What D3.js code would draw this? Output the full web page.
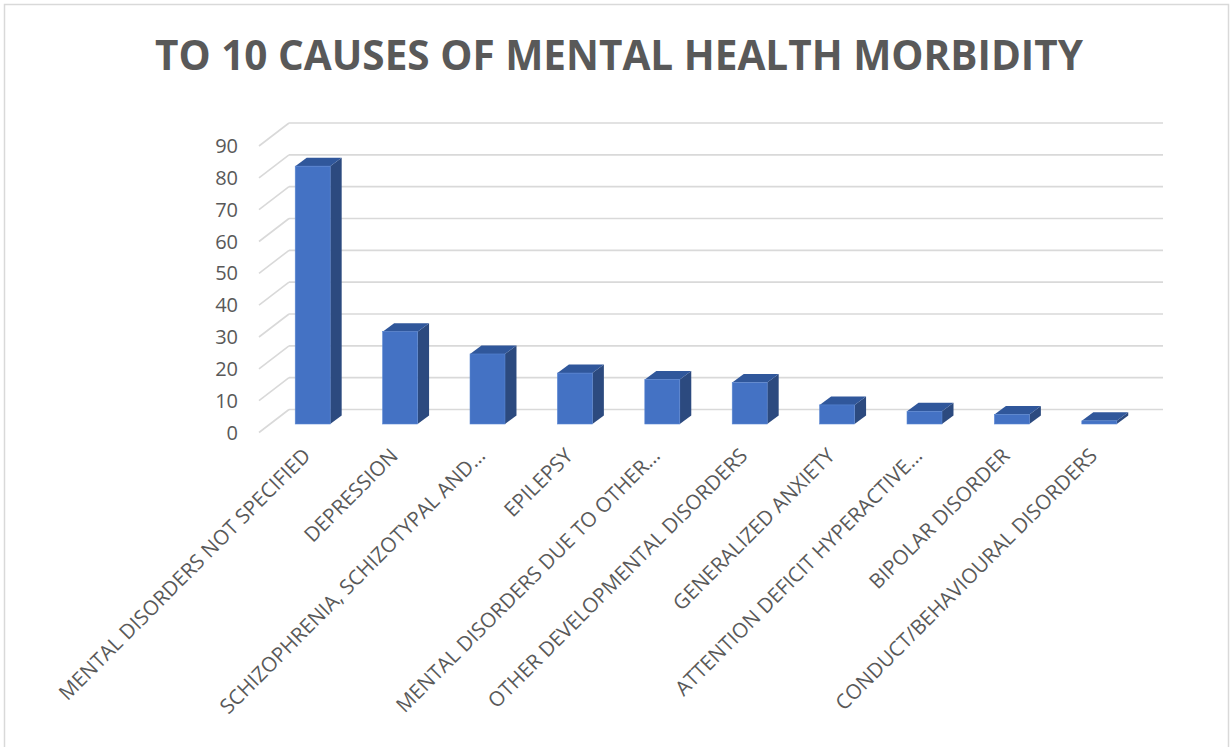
<!DOCTYPE html>
<html>
<head>
<meta charset="utf-8">
<script src="https://cdn.jsdelivr.net/npm/d3@7"></script>
<style>
  html, body { margin: 0; padding: 0; background: #fff; }
  svg { display: block; }
</style>
</head>
<body>
<svg id="chart" width="1231" height="747"></svg>
<script>
const title = "TO 10 CAUSES OF MENTAL HEALTH MORBIDITY";
const categories = [
  "MENTAL DISORDERS NOT SPECIFIED",
  "DEPRESSION",
  "SCHIZOPHRENIA, SCHIZOTYPAL AND…",
  "EPILEPSY",
  "MENTAL DISORDERS DUE TO OTHER…",
  "OTHER DEVELOPMENTAL DISORDERS",
  "GENERALIZED ANXIETY",
  "ATTENTION DEFICIT HYPERACTIVE…",
  "BIPOLAR DISORDER",
  "CONDUCT/BEHAVIOURAL DISORDERS"
];
const values = [81, 29, 22, 16, 14, 13, 6, 4, 3, 1];
const yTicks = [0, 10, 20, 30, 40, 50, 60, 70, 80, 90];

const svg = d3.select("#chart");
const textColor = "#595959";
const gridColor = "#d9d9d9";

// chart border
svg.append("rect")
  .attr("x", 4.5).attr("y", 4.5)
  .attr("width", 1224).attr("height", 760)
  .attr("fill", "#fff").attr("stroke", gridColor).attr("stroke-width", 1.5);

// title
svg.append("text")
  .attr("x", 155).attr("y", 70)
  .attr("textLength", 928).attr("lengthAdjust", "spacingAndGlyphs")
  .attr("font-family", "'Open Sans', sans-serif")
  .attr("font-weight", "bold")
  .attr("font-size", 42)
  .attr("fill", textColor)
  .text(title);

// back-wall scales
const x = d3.scaleBand().domain(categories).range([289, 1163]);
const y = d3.scaleLinear().domain([0, 90]).range([409.5, 123]);

// oblique depth: floor front edge relative to back wall
const depthX = -30, depthY = 23;
// bar front plane offset and bar side depth
const barFrontX = -20, barFrontY = 14.5;
const sideX = 11.5, sideY = -8.5;
const barW = x.bandwidth() * 0.4;

const grid = svg.append("g");
yTicks.forEach(t => {
  grid.append("line")
    .attr("x1", x.range()[0]).attr("x2", x.range()[1])
    .attr("y1", y(t)).attr("y2", y(t))
    .attr("stroke", gridColor).attr("stroke-width", 1.6);
  grid.append("line")
    .attr("x1", x.range()[0] + depthX).attr("y1", y(t) + depthY)
    .attr("x2", x.range()[0]).attr("y2", y(t))
    .attr("stroke", gridColor).attr("stroke-width", 1.6);
});

// y tick labels
svg.append("g").selectAll("text").data(yTicks).join("text")
  .attr("x", 238)
  .attr("y", d => y(d) + depthY)
  .attr("dy", "0.35em")
  .attr("text-anchor", "end")
  .attr("font-family", "'Open Sans', sans-serif")
  .attr("font-size", 20)
  .attr("fill", textColor)
  .text(d => d);

// bars
const bars = svg.append("g").selectAll("g").data(categories.map((c, i) => ({c, v: values[i]}))).join("g");
bars.each(function(d) {
  const g = d3.select(this);
  const x0 = x(d.c) + (x.bandwidth() - barW) / 2 + barFrontX;
  const x1 = x0 + barW;
  const yTop = y(d.v) + barFrontY;
  const yBot = y(0) + barFrontY;
  // side face
  g.append("path")
    .attr("d", `M${x1},${yBot} L${x1 + sideX},${yBot + sideY} L${x1 + sideX},${yTop + sideY} L${x1},${yTop} Z`)
    .attr("fill", "#2c4a7f");
  // top face
  g.append("path")
    .attr("d", `M${x0},${yTop} L${x0 + sideX},${yTop + sideY} L${x1 + sideX},${yTop + sideY} L${x1},${yTop} Z`)
    .attr("fill", "#30579b");
  // front face
  g.append("rect")
    .attr("x", x0).attr("y", yTop)
    .attr("width", barW).attr("height", yBot - yTop)
    .attr("fill", "#4472c4")
    .attr("stroke", "#5a86d2").attr("stroke-width", 0.6);
});

// category labels
svg.append("g").selectAll("text").data(categories).join("text")
  .attr("transform", d => `translate(${x(d) + x.bandwidth() / 2 + depthX + 4},${452}) rotate(-45)`)
  .attr("dy", "0.35em")
  .attr("text-anchor", "end")
  .attr("font-family", "'Open Sans', sans-serif")
  .attr("font-size", 20.5)
  .attr("fill", textColor)
  .text(d => d);
</script>
</body>
</html>
